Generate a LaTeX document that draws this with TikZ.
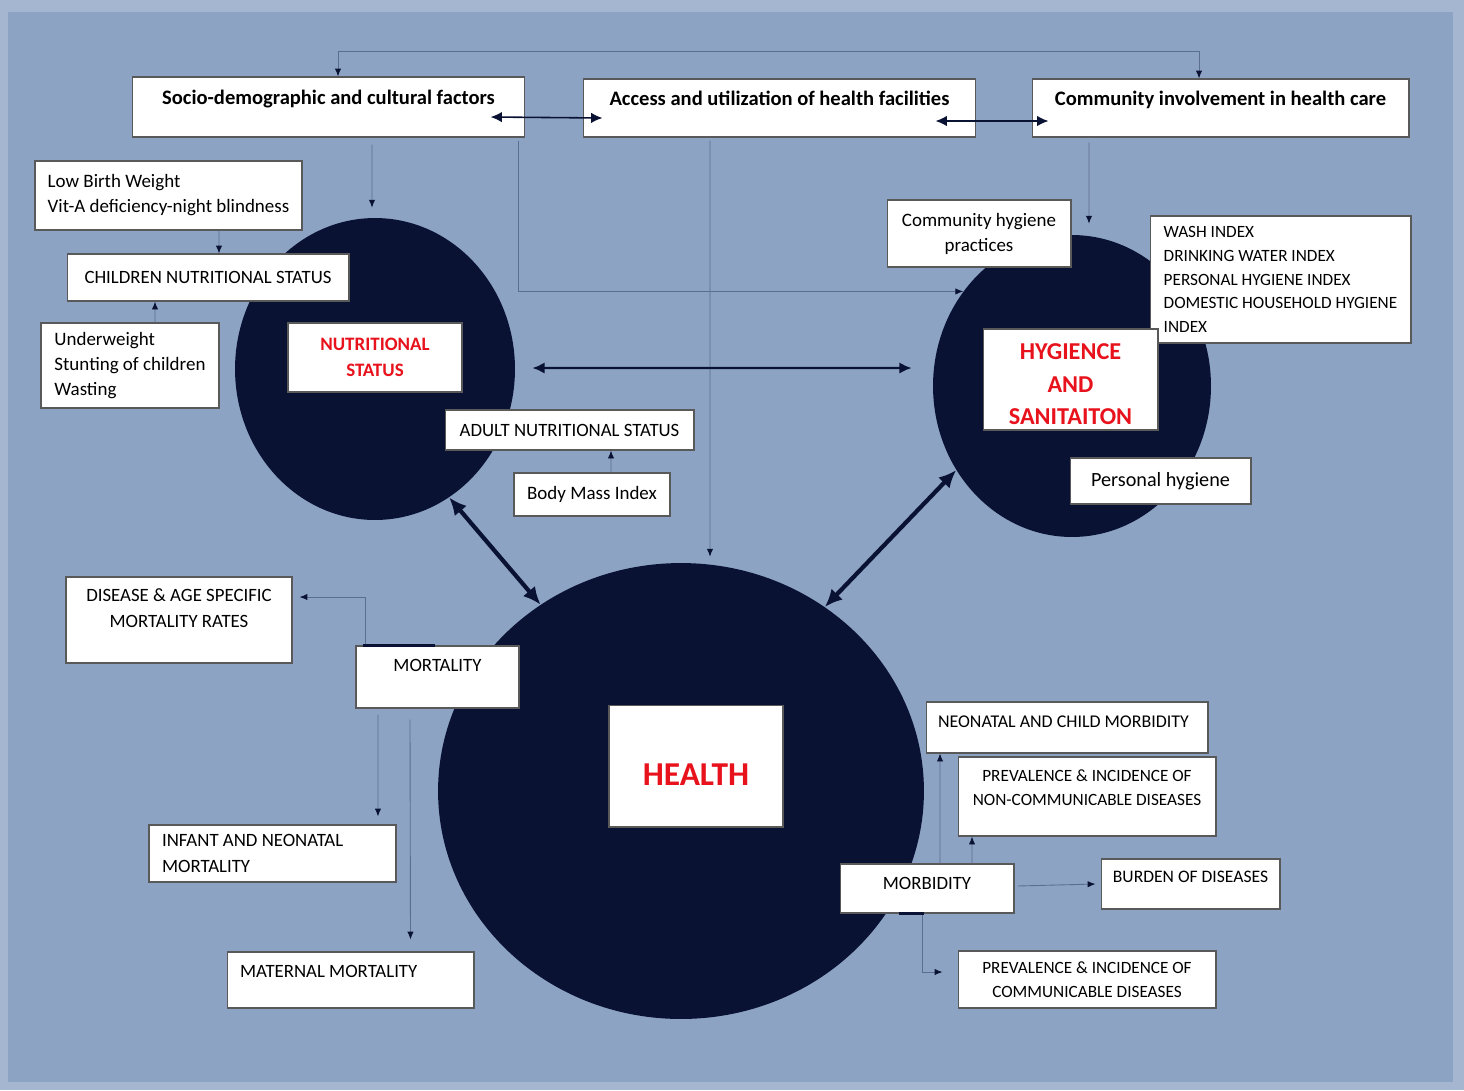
\documentclass[tikz,border=0pt]{standalone}
\usepackage{fontspec}
\setmainfont{Carlito}
\usepackage{tikz}
\usetikzlibrary{arrows.meta,shapes.geometric}

\definecolor{outc}{HTML}{A5B6D0}
\definecolor{innc}{HTML}{8DA3C3}
\definecolor{navy}{HTML}{0A1233}
\definecolor{lnkc}{HTML}{5B6E92}
\definecolor{mred}{HTML}{E8121C}

\begin{document}
\begin{tikzpicture}[
  x=0.02cm, y=-0.02cm,
  box/.style={draw=black!65, fill=white, line width=.6pt, inner sep=0pt, align=center,
              font=\fontsize{10.8}{14.2}\selectfont},
  ubox/.style={box, font=\fontsize{10.7}{14.5}\selectfont},
  head/.style={box, font=\fontsize{11.7}{13.5}\selectfont\bfseries},
  key/.style={box, text=mred, font=\fontsize{10.8}{14.8}\selectfont\bfseries},
  blob/.style={ellipse, fill=navy, inner sep=0pt},
  lnk/.style={draw=lnkc, line width=.5pt, >={Latex[length=4.5pt,width=3.6pt,color=navy]}, ->},
  dbl/.style={draw=navy, line width=.9pt, >={Latex[length=6.5pt,width=6pt]}, <->},
  mid/.style={draw=navy, line width=1.4pt, >={Latex[length=7pt,width=6.5pt]}, <->},
  big/.style={draw=navy, line width=2.4pt, >={Latex[length=10pt,width=9pt]}, <->}
]
  \fill[outc] (0,0) rectangle (1464,1090);
  \fill[innc] (8,12) rectangle (1453,1082);
  \useasboundingbox (0,0) rectangle (1464,1090);

  % the three circles
  \node[blob, minimum width=5.6cm, minimum height=6.04cm] (nut) at (375,369) {};
  \node[blob, minimum width=5.56cm, minimum height=6.04cm] (hyg) at (1072,386) {};
  \node[blob, minimum width=9.72cm, minimum height=9.12cm] (hea) at (681,791) {};

  % top row
  \node[head, minimum width=7.86cm, minimum height=1.2cm] (soc) at (328.5,107)
    {\raisebox{11pt}{Socio-demographic and cultural factors}};
  \node[head, minimum width=7.86cm, minimum height=1.16cm] (acc) at (779.5,108)
    {\raisebox{11pt}{Access and utilization of health facilities}};
  \node[head, minimum width=7.54cm, minimum height=1.16cm] (com) at (1220.5,108)
    {\raisebox{11pt}{Community involvement in health care}};

  % nutrition
  \node[box, align=left, minimum width=5.34cm, minimum height=1.38cm] (lbw) at (168.5,195.5)
    {Low Birth Weight\\Vit-A deficiency-night blindness};
  \node[ubox, minimum width=5.64cm, minimum height=.94cm] (chn) at (208,277.5) {CHILDREN NUTRITIONAL STATUS};
  \node[box, align=left, minimum width=3.56cm, minimum height=1.7cm] (uw) at (130,365.5)
    {Underweight\\Stunting of children\\Wasting};
  \node[key, minimum width=3.48cm, minimum height=1.38cm] (nst) at (375,357.5) {NUTRITIONAL\\STATUS};
  \node[ubox, minimum width=4.98cm, minimum height=.8cm] (adu) at (569.5,430) {ADULT NUTRITIONAL STATUS};
  \node[box, minimum width=3.12cm, minimum height=.86cm] (bmi) at (592,494.5) {Body Mass Index};

  % hygiene
  \node[box, minimum width=3.68cm, minimum height=1.34cm] (chp) at (979,233.5) {Community hygiene\\practices};
  \node[ubox, align=left, font=\fontsize{9.8}{13.6}\selectfont, minimum width=5.22cm, minimum height=2.54cm]
    (wash) at (1280.5,279.5)
    {WASH INDEX\\DRINKING WATER INDEX\\PERSONAL HYGIENE INDEX\\DOMESTIC HOUSEHOLD HYGIENE\\INDEX};
  \node[key, font=\fontsize{13.8}{18.7}\selectfont\bfseries, minimum width=3.5cm, minimum height=2.02cm]
    (hsn) at (1070.5,379.5)
    {\raisebox{-7pt}[0pt][0pt]{\begin{tabular}{@{}c@{}}HYGIENCE\\AND\\SANITAITON\end{tabular}}};
  \node[box, font=\fontsize{11.5}{14}\selectfont, minimum width=3.62cm, minimum height=.92cm]
    (phy) at (1160.5,481) {Personal hygiene};

  % health
  \node[key, font=\fontsize{19}{22}\selectfont\bfseries, minimum width=3.48cm, minimum height=2.44cm]
    (hbx) at (696,766) {\raisebox{-11pt}[0pt][0pt]{HEALTH}};

  % mortality
  \node[ubox, minimum width=4.52cm, minimum height=1.72cm] (dis) at (179,620)
    {\raisebox{3.4pt}[0pt][0pt]{\begin{tabular}{@{}c@{}}DISEASE \& AGE SPECIFIC\\MORTALITY RATES\end{tabular}}};
  \node[ubox, minimum width=3.26cm, minimum height=1.24cm] (mor) at (437.5,677) {\raisebox{13pt}{MORTALITY}};
  \node[ubox, align=flush left, text width=4.42cm, minimum width=4.94cm, minimum height=1.14cm] (inf) at (272.5,853.5)
    {INFANT AND NEONATAL\\MORTALITY};
  \node[ubox, align=flush left, text width=4.42cm, minimum width=4.94cm, minimum height=1.12cm] (mat) at (350.5,980)
    {\raisebox{10pt}{MATERNAL MORTALITY}};

  % morbidity
  \node[ubox, align=flush left, font=\fontsize{10.2}{13.6}\selectfont, text width=5.16cm, minimum width=5.64cm,
    minimum height=1.02cm] (neo) at (1067,727.5) {\raisebox{7pt}{NEONATAL AND CHILD MORBIDITY}};
  \node[ubox, font=\fontsize{9.8}{13.6}\selectfont, minimum width=5.16cm, minimum height=1.58cm] (ncd) at (1087,796.5)
    {\raisebox{2pt}[0pt][0pt]{\begin{tabular}{@{}c@{}}PREVALENCE \& INCIDENCE OF\\NON-COMMUNICABLE DISEASES\end{tabular}}};
  \node[ubox, minimum width=3.48cm, minimum height=.98cm] (mbd) at (927,888.5) {\raisebox{6pt}{MORBIDITY}};
  \node[ubox, font=\fontsize{10}{13.6}\selectfont, minimum width=3.58cm, minimum height=1cm] (bur) at (1190.5,884)
    {\raisebox{8pt}{BURDEN OF DISEASES}};
  \node[ubox, font=\fontsize{9.8}{13.6}\selectfont, minimum width=5.16cm, minimum height=1.14cm] (cd) at (1087,979.5)
    {PREVALENCE \& INCIDENCE OF\\COMMUNICABLE DISEASES};

  % links on top
  \draw[lnk, <->] ([xshift=.19cm]soc.north) -- ++(0,-25) -| ([xshift=-.43cm]com.north);
  \draw[dbl] ([xshift=-.7cm,yshift=-.2cm]soc.east) -- ([xshift=.4cm,yshift=-.2cm]acc.west);
  \draw[dbl] ([xshift=-.82cm,yshift=-.26cm]acc.east) -- ([xshift=.34cm,yshift=-.26cm]com.west);
  \draw[lnk] ([xshift=.87cm,yshift=-.14cm]soc.south) -- ([xshift=-.06cm,yshift=.2cm]nut.north);
  \draw[lnk] ([xshift=-.14cm,yshift=-.06cm]soc.south east) |- (hyg.139);
  \draw[lnk] ([xshift=-1.39cm,yshift=-.06cm]acc.south) -- ([xshift=.58cm,yshift=.12cm]hea.north);
  \draw[lnk] ([xshift=-2.63cm,yshift=-.1cm]com.south) -- ([xshift=.34cm,yshift=.22cm]hyg.north);

  \draw[lnk] ([xshift=1.01cm]lbw.south) -- ([xshift=.22cm]chn.north);
  \draw[lnk] ([xshift=.5cm]uw.north) -- ([xshift=-1.06cm]chn.south);
  \draw[lnk] ([xshift=.38cm]bmi.north) -- ([xshift=.83cm]adu.south);

  \draw[mid] ([xshift=.34cm,yshift=.02cm]nut.east) -- ([xshift=-.42cm,yshift=.36cm]hyg.west);
  \draw[big] (nut.-60) -- (hea.127);
  \draw[big] (hyg.216) -- (hea.52);

  % mortality links
  \draw[lnk] ([xshift=-1.45cm]mor.north) |- ([xshift=.14cm,yshift=.46cm]dis.east);
  \draw[navy, line width=1.2pt] ([xshift=-1.5cm]mor.north) -- ([xshift=-.05cm]mor.north);
  \draw[lnk] ([xshift=-1.19cm,yshift=-.12cm]mor.south) -- ([xshift=2.11cm,yshift=.16cm]inf.north);
  \draw[lnk] ([xshift=-.55cm,yshift=-.22cm]mor.south) -- ([xshift=1.2cm,yshift=.24cm]mat.north);

  % morbidity links
  \draw[lnk] ([xshift=.26cm]mbd.north) -- ([xshift=-2.54cm]neo.south);
  \draw[lnk] ([xshift=.9cm]mbd.north) -- ([xshift=-2.3cm]ncd.south);
  \draw[lnk] ([xshift=.06cm,yshift=.05cm]mbd.east) -- ([xshift=-.1cm]bur.west);
  \draw[lnk] ([xshift=-.1cm]mbd.south) |- ([xshift=-.3cm,yshift=.15cm]cd.west);
  \draw[navy, line width=1.2pt] ([xshift=-.56cm]mbd.south) -- ([xshift=-.06cm]mbd.south);
\end{tikzpicture}
\end{document}
